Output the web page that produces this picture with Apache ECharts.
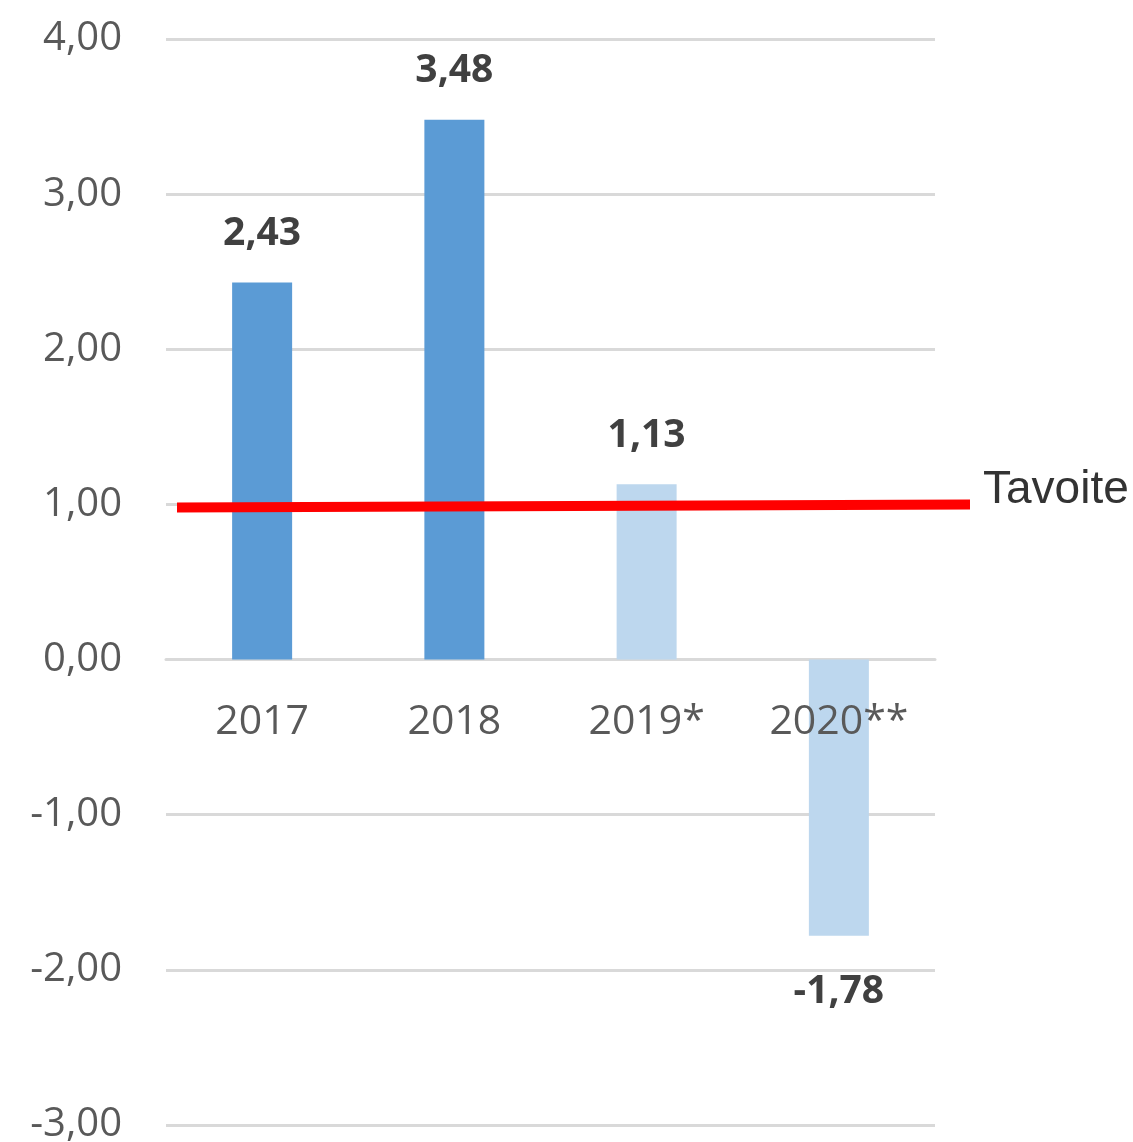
<!DOCTYPE html>
<html>
<head>
<meta charset="utf-8">
<script src="https://cdn.jsdelivr.net/npm/echarts@6/dist/echarts.min.js"></script>
<style>
html,body{margin:0;padding:0;background:#fff;}
#chart{width:1133px;height:1142px;}
</style>
</head>
<body>
<div id="chart"></div>
<script>
// ---- data ----
const categories = ['2017', '2018', '2019*', '2020**'];
const values = [2.43, 3.48, 1.13, -1.78];
const isForecast = [false, false, true, true];
const targetName = 'Tavoite';
const targetLine = [0.98, 1.0];   // target line as drawn (start, end)
const yTicks = [-3, -2, -1, 0, 1, 2, 3, 4];

// ---- styling ----
const DARK = '#5B9BD5', LIGHT = '#BDD7EE';
const fmt = v => v.toFixed(2).replace('.', ',');
const yMin = yTicks[0], yMax = yTicks[yTicks.length - 1];
const TOP = 39, BOTTOM = 17, H = 1142;
const zeroY = TOP + (H - TOP - BOTTOM) * yMax / (yMax - yMin);

const barData = values.map((v, i) => ({
  value: v,
  itemStyle: { color: isForecast[i] ? LIGHT : DARK },
  label: {
    position: v < 0 ? 'bottom' : 'top',
    distance: v < 0 ? 37 : (i === 1 ? 29 : 29)
  }
}));

const gridBase = { containLabel: false, outerBoundsMode: 'none' };

const chart = echarts.init(document.getElementById('chart'), null, { renderer: 'canvas' });
chart.setOption({
  animation: false,
  backgroundColor: '#fff',
  grid: [
    Object.assign({ left: 166, right: 198, top: TOP, bottom: BOTTOM }, gridBase),
    Object.assign({ left: 177, right: 163, top: TOP, bottom: BOTTOM }, gridBase),
    Object.assign({ left: 166, right: 198, top: TOP, bottom: H - zeroY }, gridBase)
  ],
  xAxis: [
    {
      type: 'category', gridIndex: 0, data: categories,
      axisLine: { show: true, onZero: true, lineStyle: { color: '#d9d9d9', width: 3 } },
      axisTick: { show: false },
      axisLabel: { show: false },
      z: 1
    },
    {
      type: 'category', gridIndex: 1, data: ['a', 'b'], boundaryGap: false, show: false
    },
    {
      type: 'category', gridIndex: 2, data: categories, z: 10,
      axisLine: { show: false }, axisTick: { show: false }, splitLine: { show: false },
      axisLabel: { margin: 42, fontFamily: 'Open Sans', fontSize: 41, color: '#595959' }
    }
  ],
  yAxis: [
    {
      type: 'value', gridIndex: 0, min: yMin, max: yMax, interval: 1,
      axisLine: { show: false }, axisTick: { show: false },
      splitLine: { lineStyle: { color: '#d9d9d9', width: 3 } },
      axisLabel: { margin: 44, fontFamily: 'Open Sans', fontSize: 40, color: '#595959', formatter: fmt,
                   padding: [4, 0, 0, 0] }
    },
    {
      type: 'value', gridIndex: 1, min: yMin, max: yMax, show: false
    },
    {
      type: 'value', gridIndex: 2, min: 0, max: 1, show: false
    }
  ],
  series: [
    {
      type: 'bar', xAxisIndex: 0, yAxisIndex: 0, data: barData, barWidth: 60,
      label: {
        show: true, fontFamily: 'Open Sans', fontWeight: 'bold', fontSize: 39, color: '#404040',
        formatter: p => fmt(p.value)
      }
    },
    {
      type: 'line', xAxisIndex: 1, yAxisIndex: 1, data: targetLine, name: targetName,
      symbol: 'none', silent: true, z: 5,
      lineStyle: { color: '#FF0000', width: 10, cap: 'butt' },
      endLabel: {
        show: true, formatter: targetName, distance: 13, offset: [0, -14],
        fontFamily: 'Liberation Sans', fontSize: 46, color: '#333333'
      }
    }
  ]
});
</script>
</body>
</html>
